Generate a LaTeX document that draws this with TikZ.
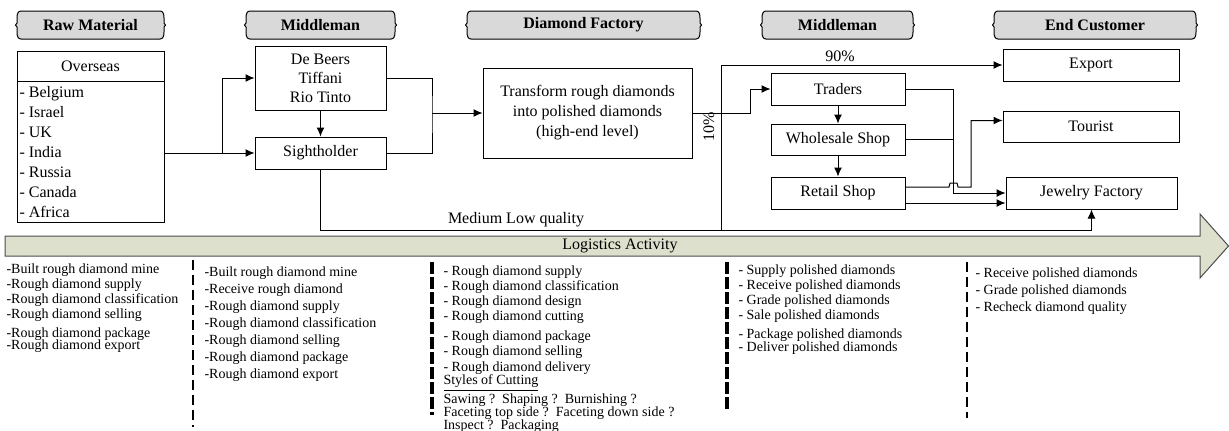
\documentclass[tikz,border=0pt]{standalone}
\usepackage{fontspec}
\setmainfont{Liberation Serif}
\usetikzlibrary{arrows.meta}
\definecolor{hdrgray}{RGB}{217,217,217}
\definecolor{logbar}{RGB}{221,224,205}

\begin{document}
\begin{tikzpicture}[x=0.5pt,y=-0.5pt,line width=0.5pt,>={Latex[length=4.5pt,width=4pt]},
  hdr/.style={draw=black, fill=hdrgray},
  hdrtxt/.style={font=\bfseries\fontsize{8}{9}\selectfont},
  box/.style={draw, rectangle, inner sep=0pt, align=center, font=\fontsize{8}{9.5}\selectfont},
  lbl/.style={inner sep=0pt, font=\fontsize{8}{9.5}\selectfont},
  list/.style={inner sep=0pt, anchor=north west, align=left, font=\fontsize{7}{7.5}\selectfont},
  septhin/.style={line width=1pt, dash pattern=on 5pt off 2.5pt},
  septhick/.style={line width=2pt, dash pattern=on 6pt off 1.5pt}]
\useasboundingbox (0,0) rectangle (1229,430);
% headers
\filldraw[hdr] (21,11) -- (160,11) .. controls (163,11) and (164,14) .. (164,18) -- (164,23) -- (165.5,25) -- (164,27) -- (164,32) .. controls (164,36) and (163,39) .. (160,39) -- (21,39) .. controls (18,39) and (17,36) .. (17,32) -- (17,27) -- (15.5,25) -- (17,23) -- (17,18) .. controls (17,14) and (18,11) .. (21,11) -- cycle node (hrm) at (90.5,25) [hdrtxt] {Raw Material};
\filldraw[hdr] (250,11) -- (391,11) .. controls (394,11) and (395,14) .. (395,18) -- (395,23) -- (396.5,25) -- (395,27) -- (395,32) .. controls (395,36) and (394,39) .. (391,39) -- (250,39) .. controls (247,39) and (246,36) .. (246,32) -- (246,27) -- (244.5,25) -- (246,23) -- (246,18) .. controls (246,14) and (247,11) .. (250,11) -- cycle node (hmm) at (320.5,25) [hdrtxt] {Middleman};
\filldraw[hdr] (471,11) -- (696,11) .. controls (699,11) and (700,14) .. (700,18) -- (700,23) -- (701.5,25) -- (700,27) -- (700,32) .. controls (700,36) and (699,39) .. (696,39) -- (471,39) .. controls (468,39) and (467,36) .. (467,32) -- (467,27) -- (465.5,25) -- (467,23) -- (467,18) .. controls (467,14) and (468,11) .. (471,11) -- cycle node (hdf) at (583.5,25) [hdrtxt] {Diamond Factory};
\filldraw[hdr] (766,11) -- (909,11) .. controls (912,11) and (913,14) .. (913,18) -- (913,23) -- (914.5,25) -- (913,27) -- (913,32) .. controls (913,36) and (912,39) .. (909,39) -- (766,39) .. controls (763,39) and (762,36) .. (762,32) -- (762,27) -- (760.5,25) -- (762,23) -- (762,18) .. controls (762,14) and (763,11) .. (766,11) -- cycle node (hmm2) at (837.5,25) [hdrtxt] {Middleman};
\filldraw[hdr] (998,11) -- (1192,11) .. controls (1195,11) and (1196,14) .. (1196,18) -- (1196,23) -- (1197.5,25) -- (1196,27) -- (1196,32) .. controls (1196,36) and (1195,39) .. (1192,39) -- (998,39) .. controls (995,39) and (994,36) .. (994,32) -- (994,27) -- (992.5,25) -- (994,23) -- (994,18) .. controls (994,14) and (995,11) .. (998,11) -- cycle node (hec) at (1095,25) [hdrtxt] {End Customer};
% boxes
\node[box, minimum width=73.5pt, minimum height=85.5pt] (ovs) at (90.5,136.5) {};
\coordinate (ovsln) at (17,81);
\draw (ovsln) -- (ovsln -| ovs.east);
\node[lbl] (ovst) at (90.5,66) {Overseas};
\node[list, font=\fontsize{8}{10}\selectfont] (ovsi) at (19,86) {- Belgium\\- Israel\\- UK\\- India\\- Russia\\- Canada\\- Africa};
\node[box, minimum width=65.5pt, minimum height=32pt] (dbs) at (320.5,78) {De Beers\\Tiffani\\Rio Tinto};
\node[box, minimum width=65.5pt, minimum height=16pt] (sgh) at (320.5,153) {Sightholder};
\node[box, minimum width=104.5pt, minimum height=45pt, font=\fontsize{8}{10}\selectfont] (trf) at (587.5,113) {Transform rough diamonds\\into polished diamonds\\(high-end level)};
\node[box, minimum width=67pt, minimum height=16pt] (trd) at (838,89) {Traders};
\node[box, minimum width=67pt, minimum height=15.5pt] (whs) at (838,139.5) {Wholesale Shop};
\node[box, minimum width=67pt, minimum height=16pt] (rtl) at (838,193) {Retail Shop};
\node[box, minimum width=88pt, minimum height=16pt] (exp) at (1091,65) {Export};
\node[box, minimum width=88pt, minimum height=15.5pt] (tou) at (1091,126.5) {Tourist};
\node[box, minimum width=85.5pt, minimum height=16pt] (jwl) at (1091.5,193) {Jewelry Factory};
% flows
\coordinate (br1) at (222,153);
\draw[->] (ovs.east |- sgh.west) -- (sgh.west);
\draw[->] (br1) |- (dbs.west);
\draw[->] (dbs.south) -- (sgh.north);
\coordinate (j1) at (432,113);
\draw (dbs.east) -| (j1) |- (sgh.east);
\draw[->] (j1) -- (trf.west);
\coordinate (j2) at (750,113);
\draw[->] (trf.east) -- (j2) |- (trd.west);
\coordinate (v10) at (721,230);
\draw[->] (v10) |- (exp.west);
\coordinate (mlq) at (jwl.south |- v10);
\draw[->] (sgh.south) |- (mlq) -- (jwl.south);
\node[lbl] (mlqt) at (516,220) {Medium Low quality};
\node[lbl] (p90) at (840,56) {90\%};
\node[lbl, rotate=90] (p10) at (709,127) {10\%};
\draw[->] (trd.south) -- (whs.north);
\draw[->] (whs.south) -- (rtl.north);
\coordinate (j3) at (953,193);
\draw[->] (trd.east) -| (j3) -- (jwl.west);
\draw (whs.east) -- (whs.east -| j3);
\coordinate (rtu) at ([yshift=3pt]rtl.east);
\coordinate (tot) at ([yshift=3pt]tou.west);
\draw[->] (rtu) -- (949,187) -- (950,183) -- (957,183) -- (958,187) -- (971,187) |- (tot);
\draw[->] ([yshift=-5pt]rtl.east) -- ([yshift=-5pt]jwl.west);
% logistics bar
\filldraw[draw=black!70, fill=logbar] (5,236) -- (1200,236) -- (1200,214) -- (1228.5,246) -- (1200,278) -- (1200,256) -- (5,256) -- cycle node (lga) at (620,246) [lbl] {Logistics Activity};
% activities
\node[list] (act1) at (6,263) {-Built rough diamond mine\\-Rough diamond supply\\-Rough diamond classification\\-Rough diamond selling\\[2pt]-Rough diamond package\\[-1.5pt]-Rough diamond export};
\draw[septhin] (193,260) -- (193,427);
\node[list, font=\fontsize{7}{8.5}\selectfont] (act2) at (204,266) {-Built rough diamond mine\\-Receive rough diamond\\-Rough diamond supply\\-Rough diamond classification\\-Rough diamond selling\\-Rough diamond package\\-Rough diamond export};
\draw[septhick] (432,262) -- (432,415);
\node[list] (act3) at (443,265) {- Rough diamond supply\\- Rough diamond classification\\- Rough diamond design\\- Rough diamond cutting\\[2.5pt]- Rough diamond package\\- Rough diamond selling\\[0.5pt]- Rough diamond delivery\\[-1pt]\underline{Styles of Cutting}\\[0.5pt]Sawing ?\ \ Shaping ?\ \ Burnishing ?\\[-1pt]Faceting top side ?\ \ Faceting down side ?\\[-1pt]Inspect ?\ \ Packaging};
\draw[septhick] (727,262) -- (727,410);
\node[list] (act4) at (738,264) {- Supply polished diamonds\\- Receive polished diamonds\\- Grade polished diamonds\\- Sale polished diamonds\\[2pt]- Package polished diamonds\\[-1pt]- Deliver polished diamonds};
\draw[septhin] (967,262) -- (967,418);
\node[list, font=\fontsize{7}{8.5}\selectfont] (act5) at (975,267) {- Receive polished diamonds\\- Grade polished diamonds\\- Recheck diamond quality};
\end{tikzpicture}
\end{document}
